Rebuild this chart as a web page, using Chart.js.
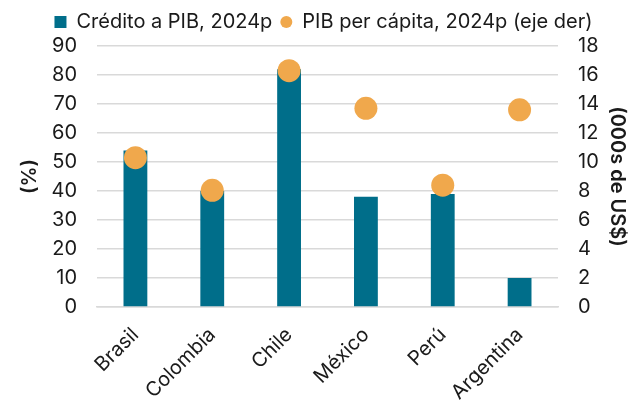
<!DOCTYPE html>
<html>
<head>
<meta charset="utf-8">
<script src="https://cdn.jsdelivr.net/npm/chart.js@4"></script>
<style>
  html, body { margin: 0; padding: 0; background: #fff; }
  #wrap { width: 638px; height: 407px; }
</style>
</head>
<body>
<div id="wrap"><canvas id="chart"></canvas></div>
<script>
// datos
const paises = ['Brasil', 'Colombia', 'Chile', 'México', 'Perú', 'Argentina'];
const creditoPib = [54, 40, 82, 38, 39, 10];
const pibPerCapita = [10.3, 8.05, 16.3, 13.7, 8.4, 13.6];
const ticksIzq = [0, 90, 10];
const ticksDer = [0, 18, 2];

const azul = '#006E8A';
const naranja = '#F0A84C';
const gris = '#D9D9D9';

Chart.defaults.font.family = 'Inter';
Chart.defaults.font.size = 20;
Chart.defaults.color = '#1a1a1a';

// sube un poco la leyenda
const subirLeyenda = {
    id: 'subirLeyenda',
    afterLayout(chart) {
        const lg = chart.legend;
        lg.top -= 4;
        lg.bottom -= 4;
        (lg.legendHitBoxes || []).forEach(b => { b.top -= 4; });
    }
};

const ctx = document.getElementById('chart').getContext('2d');

new Chart(ctx, {
    data: {
        labels: paises,
        datasets: [{
            type: 'line',
            label: 'PIB per cápita, 2024p (eje der)',
            data: pibPerCapita,
            yAxisID: 'y1',
            showLine: false,
            pointRadius: 11.5,
            pointHoverRadius: 11.5,
            pointBackgroundColor: naranja,
            pointBorderWidth: 0,
            backgroundColor: naranja,
            borderColor: naranja
        }, {
            type: 'bar',
            label: 'Crédito a PIB, 2024p',
            data: creditoPib,
            yAxisID: 'y',
            backgroundColor: azul,
            categoryPercentage: 1,
            barPercentage: 0.31
        }]
    },
    options: {
        responsive: true,
        maintainAspectRatio: false,
        animation: false,
        layout: { padding: { left: 14, right: 5, top: -17, bottom: 0 } },
        plugins: {
            tooltip: { enabled: false },
            legend: {
                position: 'top',
                reverse: true,
                labels: {
                    boxWidth: 12,
                    boxHeight: 12,
                    padding: 8,
                    useBorderRadius: true,
                    generateLabels: function(chart) {
                        const items = Chart.defaults.plugins.legend.labels.generateLabels(chart);
                        items.forEach(item => {
                            item.lineWidth = 0;
                            item.borderRadius = item.datasetIndex === 0 ? 6 : 0;
                        });
                        return items;
                    }
                }
            }
        },
        scales: {
            x: {
                grid: { display: false },
                border: { display: true, color: gris, width: 1.5 },
                ticks: { minRotation: 45, maxRotation: 45, padding: 8 },
                afterFit: function(scale) { scale.height = 100; }
            },
            y: {
                position: 'left',
                min: ticksIzq[0],
                max: ticksIzq[1],
                ticks: { stepSize: ticksIzq[2], padding: 20 },
                grid: { color: gris, lineWidth: 1.5, drawTicks: false },
                border: { display: false },
                title: { display: true, text: '(%)', font: { weight: '600' } },
                afterFit: function(scale) {
                    scale.width = 83;
                    scale.paddingTop = 46;
                }
            },
            y1: {
                position: 'right',
                min: ticksDer[0],
                max: ticksDer[1],
                ticks: { stepSize: ticksDer[2], padding: 20 },
                grid: { display: false, drawTicks: false },
                border: { display: false },
                title: { display: true, text: '(000s de US$)', font: { weight: '600' } },
                afterFit: function(scale) { scale.width = 75; }
            }
        }
    },
    plugins: [subirLeyenda]
});
</script>
</body>
</html>
